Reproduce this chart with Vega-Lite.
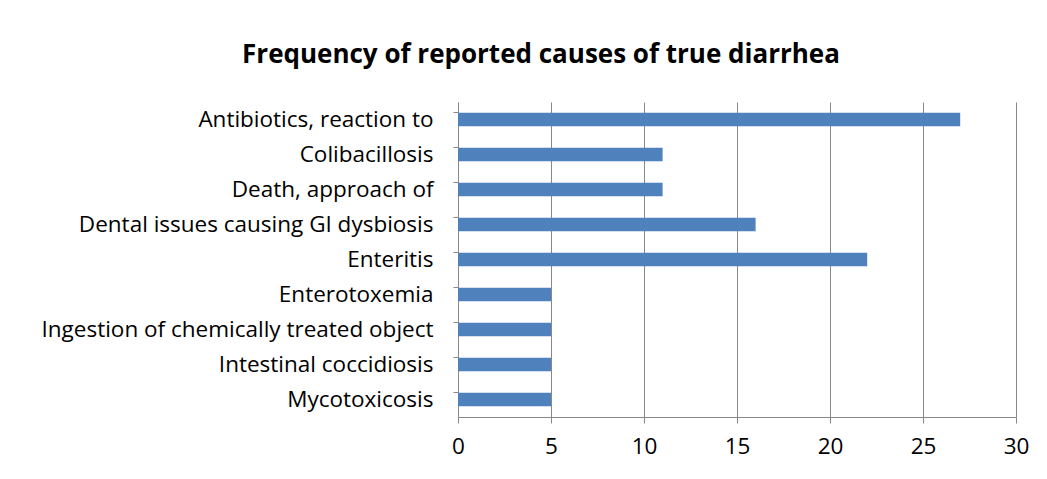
{
  "$schema": "https://vega.github.io/schema/vega-lite/v6.json",
  "width": 558,
  "height": 315,
  "autosize": {"type": "none"},
  "padding": {"left": 458, "top": 102, "right": 31, "bottom": 62},
  "background": "white",
  "title": {
    "text": "Frequency of reported causes of true diarrhea",
    "font": "Open Sans",
    "fontSize": 26,
    "fontWeight": "bold",
    "color": "#000000",
    "anchor": "middle",
    "frame": "group",
    "dx": -196,
    "offset": 34
  },
  "data": {
    "values": [
      {"cause": "Antibiotics, reaction to", "count": 27},
      {"cause": "Colibacillosis", "count": 11},
      {"cause": "Death, approach of", "count": 11},
      {"cause": "Dental issues causing GI dysbiosis", "count": 16},
      {"cause": "Enteritis", "count": 22},
      {"cause": "Enterotoxemia", "count": 5},
      {"cause": "Ingestion of chemically treated object", "count": 5},
      {"cause": "Intestinal coccidiosis", "count": 5},
      {"cause": "Mycotoxicosis", "count": 5}
    ]
  },
  "mark": {"type": "bar", "color": "#4F81BD"},
  "encoding": {
    "y": {
      "field": "cause",
      "type": "nominal",
      "sort": null,
      "scale": {"paddingInner": 0.62, "paddingOuter": 0.31},
      "axis": {
        "title": null,
        "bandPosition": 0,
        "grid": false,
        "domainColor": "#888888",
        "tickColor": "#888888",
        "tickSize": 5,
        "labelPadding": 20,
        "labelFont": "Open Sans",
        "labelFontSize": 22.5,
        "labelColor": "#000000",
        "labelLimit": 600
      }
    },
    "x": {
      "field": "count",
      "type": "quantitative",
      "scale": {"domain": [0, 30], "nice": false},
      "axis": {
        "title": null,
        "values": [0, 5, 10, 15, 20, 25, 30],
        "grid": true,
        "gridColor": "#888888",
        "gridOpacity": 1,
        "domainColor": "#888888",
        "tickColor": "#888888",
        "tickSize": 6,
        "labelPadding": 12,
        "labelFont": "Open Sans",
        "labelFontSize": 22.5,
        "labelColor": "#000000",
        "labelFlush": false
      }
    }
  },
  "config": {"view": {"stroke": null}}
}
